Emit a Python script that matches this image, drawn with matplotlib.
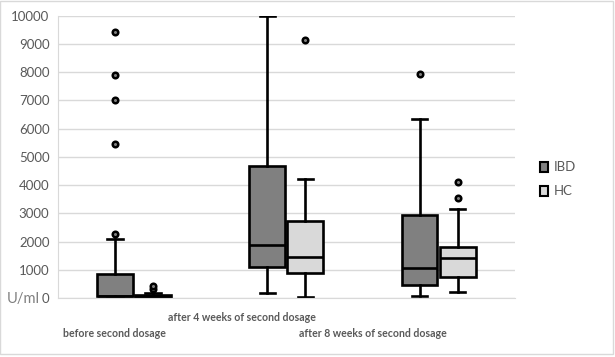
import matplotlib
matplotlib.use("Agg")
import matplotlib.pyplot as plt
from matplotlib.patches import Rectangle
import matplotlib.transforms as mtransforms

categories = ["before second dosage", "after 4 weeks of second dosage", "after 8 weeks of second dosage"]
series = ["IBD", "HC"]
y_ticks = [0, 1000, 2000, 3000, 4000, 5000, 6000, 7000, 8000, 9000, 10000]

# five-number summaries: low whisker, Q1, median, Q3, high whisker
ibd_whislo = [30, 190, 90]
ibd_q1 = [60, 1090, 460]
ibd_med = [90, 1880, 1075]
ibd_q3 = [850, 4680, 2940]
ibd_whishi = [2080, 10000, 6340]
ibd_fliers = [[2280, 5460, 7020, 7910, 9430], [], [7950]]

hc_whislo = [30, 50, 210]
hc_q1 = [40, 900, 745]
hc_med = [70, 1465, 1430]
hc_q3 = [110, 2740, 1810]
hc_whishi = [190, 4220, 3160]
hc_fliers = [[310, 430], [9150], [3550, 4120]]

label_shift = [-0.13, -0.29, -0.43]
label_row = [1, 0, 1]

colors = {"IBD": "#808080", "HC": "#d9d9d9"}

plt.rcParams["font.family"] = ["Lato", "DejaVu Sans"]
fig = plt.figure(figsize=(6.15, 3.57), dpi=100)
ax = fig.add_axes([0.094, 0.165, 0.743, 0.791])

def stats(lo, q1, med, q3, hi, fl):
    return [dict(whislo=a, q1=b, med=c, q3=d, whishi=e, fliers=f)
            for a, b, c, d, e, f in zip(lo, q1, med, q3, hi, fl)]

groups = {
    "IBD": stats(ibd_whislo, ibd_q1, ibd_med, ibd_q3, ibd_whishi, ibd_fliers),
    "HC": stats(hc_whislo, hc_q1, hc_med, hc_q3, hc_whishi, hc_fliers),
}
offsets = {"IBD": -0.125, "HC": 0.125}
lw = 1.9
for s in series:
    pos = [i + offsets[s] for i in range(len(categories))]
    ax.bxp(groups[s], positions=pos, widths=0.235, patch_artist=True,
           showfliers=True,
           boxprops=dict(facecolor=colors[s], edgecolor="black", linewidth=lw),
           medianprops=dict(color="black", linewidth=lw),
           whiskerprops=dict(color="black", linewidth=lw),
           capprops=dict(color="black", linewidth=lw),
           capwidths=0.1,
           flierprops=dict(marker="o", markersize=4, markerfacecolor="#7f7f7f",
                           markeredgecolor="black", markeredgewidth=1.8),
           manage_ticks=False)

ax.set_xlim(-0.5, len(categories) - 0.5)
ax.set_ylim(0, 10000)
ax.set_yticks(y_ticks)
ax.set_yticklabels([str(t) for t in y_ticks])
ax.set_xticks([])
ax.yaxis.grid(True, color="#d9d9d9", linewidth=1)
ax.set_axisbelow(True)
for sp in ["top", "right"]:
    ax.spines[sp].set_visible(False)
ax.spines["left"].set_color("#d9d9d9")
ax.spines["bottom"].set_color("#d9d9d9")
ax.tick_params(axis="y", length=0, labelsize=9.5, labelcolor="#595959", pad=6)

trans = mtransforms.blended_transform_factory(ax.transData, fig.transFigure)
for i, c in enumerate(categories):
    y = 0.112 if label_row[i] == 0 else 0.066
    ax.text(i + label_shift[i], y, c, transform=trans, ha="center", va="center",
            fontsize=7.6, fontweight="bold", color="#595959")

fig.text(0.011, 0.163, "U/ml", ha="left", va="center", fontsize=10.5, color="#7f7f7f")

# legend
for j, s in enumerate(series):
    yy = 0.532 - j * 0.066
    fig.patches.append(Rectangle((0.878, yy - 0.014), 0.013, 0.028, transform=fig.transFigure,
                                 facecolor=colors[s], edgecolor="black", linewidth=1.5))
    fig.text(0.9, yy, s, ha="left", va="center", fontsize=9.5, color="#595959")

# outer border
fig.patches.append(Rectangle((0.0, 0.008), 0.996, 0.99, transform=fig.transFigure,
                             fill=False, edgecolor="#d9d9d9", linewidth=1))

fig.savefig("out.png", dpi=100)
